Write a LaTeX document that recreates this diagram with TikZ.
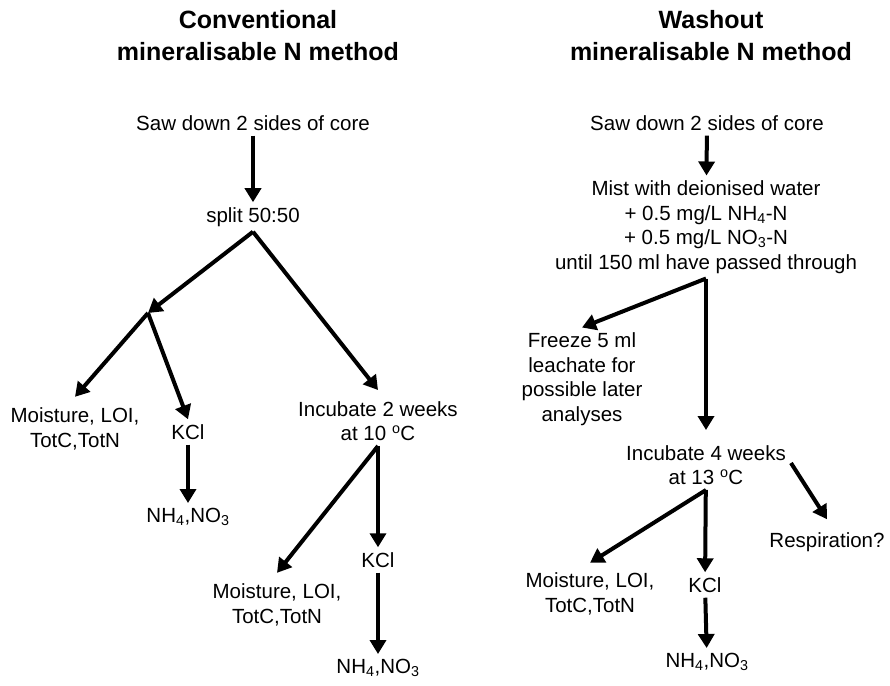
\documentclass[tikz,border=0pt]{standalone}
\usepackage{fontspec}
\setmainfont{Liberation Sans}
\usetikzlibrary{arrows.meta, positioning}

\begin{document}
\begin{tikzpicture}[
  x=1pt, y=-1pt,
  TX/.style={inner sep=5pt, align=center, font=\fontsize{20.5}{24.5}\selectfont},
  HD/.style={inner sep=0pt, align=center, font=\fontsize{25}{32}\selectfont\bfseries},
  AR/.style={-{Triangle[length=14pt,width=16pt]}, line width=4pt, black}
]
  \useasboundingbox (0,0) rectangle (890,685);

  % left: conventional method
  \node[HD] (hL) at (258,36) {Conventional\\mineralisable N method};
  \node[TX] (sawL)   at (253,123) {Saw down 2 sides of core};
  \node[TX] (splitL) at (253,217) {split 50:50};
  \coordinate (jL) at (148,313);
  \node[TX] (moiL1) at (75,429)  {Moisture, LOI,\\TotC,TotN};
  \node[TX] (kclL1) at (188,432) {KCl};
  \node[TX] (nhL1)  at (188,517) {NH\textsubscript{4},NO\textsubscript{3}};
  \node[TX] (incL)  at (378,421) {Incubate 2 weeks\\at 10 \textsuperscript{o}C};
  \node[TX] (moiL2) at (277,605) {Moisture, LOI,\\TotC,TotN};
  \node[TX] (kclL2) at (378,560) {KCl};
  \node[TX] (nhL2)  at (378,668) {NH\textsubscript{4},NO\textsubscript{3}};

  % right: washout method
  \node[HD] (hR) at (711,36) {Washout\\mineralisable N method};
  \node[TX] (sawR)  at (707,123) {Saw down 2 sides of core};
  \node[TX] (mistR) at (706,227)
    {Mist with deionised water\\+ 0.5 mg/L NH\textsubscript{4}-N\\+ 0.5 mg/L NO\textsubscript{3}-N\\until 150 ml have passed through};
  \node[TX] (frzR)  at (582,379) {Freeze 5 ml\\leachate for\\possible later\\analyses};
  \node[TX] (incR)  at (706,465) {Incubate 4 weeks\\at 13 \textsuperscript{o}C};
  \node[TX] (resR)  at (827,542) {Respiration?};
  \node[TX] (moiR)  at (590,594) {Moisture, LOI,\\TotC,TotN};
  \node[TX] (kclR)  at (705,585) {KCl};
  \node[TX] (nhR)   at (707,662) {NH\textsubscript{4},NO\textsubscript{3}};

  \draw[AR] (sawL) -- (splitL);
  \draw[AR] (splitL.south) -- (jL);
  \draw[AR] (splitL.south) -- ([yshift=6pt]incL.north);
  \draw[AR] (jL) -- ([yshift=6pt]moiL1.north);
  \draw[AR] (jL) -- (kclL1.north);
  \draw[AR] (incL.south) -- ([yshift=6pt]moiL2.north);
  \foreach \a/\b in {kclL1/nhL1, incL/kclL2, kclL2/nhL2, sawR/mistR, incR/kclR, kclR/nhR}
    \draw[AR] (\a) -- (\b);

  \draw[AR] (mistR.south) -- (frzR.north);
  \draw[AR] (mistR.south) -- ([yshift=10pt]incR.north);
  \draw[AR] (incR.south) -- ([yshift=5pt]moiR.north);
  \draw[AR] ([yshift=2pt]incR.east) -- ([yshift=8pt]resR.north);
\end{tikzpicture}
\end{document}
